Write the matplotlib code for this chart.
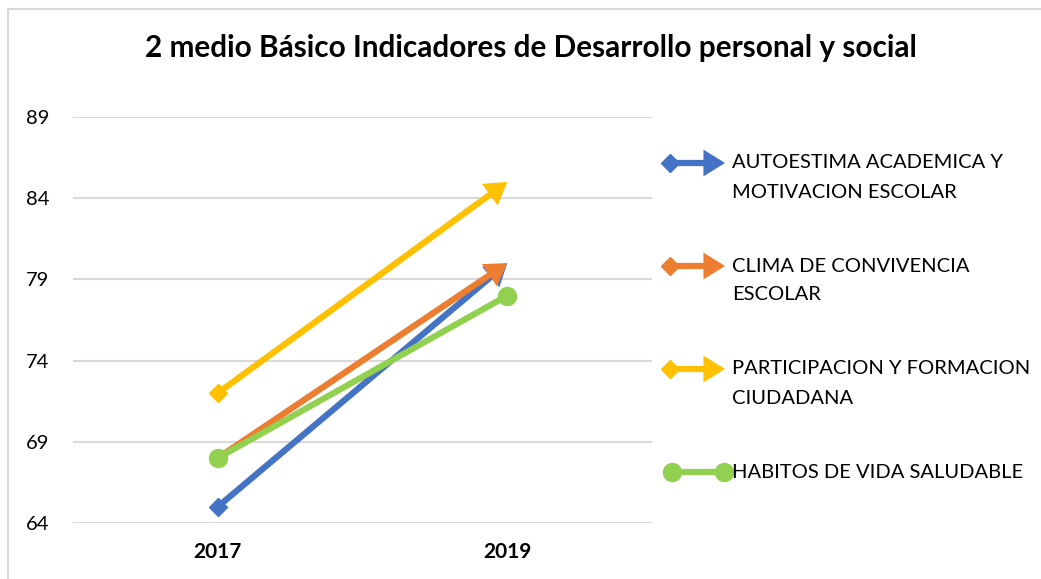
import matplotlib
matplotlib.use("Agg")
import matplotlib.pyplot as plt
from matplotlib.lines import Line2D
from matplotlib.patches import FancyArrowPatch, Rectangle

plt.rcParams['font.family'] = ['Lato', 'DejaVu Sans']

years = ['2017', '2019']
series_names = [
    'AUTOESTIMA ACADEMICA Y\nMOTIVACION ESCOLAR',
    'CLIMA DE CONVIVENCIA\nESCOLAR',
    'PARTICIPACION Y FORMACION\nCIUDADANA',
    'HABITOS DE VIDA SALUDABLE',
]
autoestima = [65, 80]
clima = [68, 80]
participacion = [72, 85]
habitos = [68, 78]
yticks = [64, 69, 74, 79, 84, 89]

colors = ['#4472C4', '#ED7D31', '#FFC000', '#92D050']
values = [autoestima, clima, participacion, habitos]

W, H = 1041, 579
fig = plt.figure(figsize=(W / 100, H / 100), dpi=100)

# chart border (top and left visible)
fig.add_artist(Rectangle((8 / W, -0.1), 1.2, (H - 9) / H + 0.1, transform=fig.transFigure,
                         fill=False, edgecolor='#D9D9D9', lw=1.5))

ax = fig.add_axes([73 / W, (H - 523) / H, (652 - 73) / W, (523 - 117) / H])
ax.set_xlim(-0.5, 1.5)
ax.set_ylim(64, 89)
ax.set_yticks(yticks)
ax.set_xticks([0, 1])
ax.set_xticklabels(years, fontsize=15, fontweight='bold')
ax.tick_params(axis='y', labelsize=14.5, length=0, pad=17)
ax.tick_params(axis='x', length=0, pad=14)
for s in ax.spines.values():
    s.set_visible(False)
ax.grid(axis='y', color='#D9D9D9', lw=1.5)
ax.set_axisbelow(True)

lw = 4.5
arrowstyle = '-|>,head_length=0.45,head_width=0.28'
for i, (vals, c) in enumerate(zip(values, colors)):
    z = 3 + i
    if i < 3:
        arr = FancyArrowPatch((0, vals[0]), (1, vals[1]), arrowstyle=arrowstyle,
                              mutation_scale=20, color=c, lw=lw, shrinkA=0, shrinkB=0,
                              joinstyle='miter', capstyle='butt', zorder=z)
        ax.add_patch(arr)
        ax.plot([0], [vals[0]], marker='D', ms=9, color=c, mec=c, zorder=z + 0.1,
                clip_on=False)
    else:
        ax.plot([0, 1], vals, color=c, lw=lw, marker='o', ms=13, zorder=z,
                solid_capstyle='butt', clip_on=False)

fig.text(531 / W, (H - 48) / H, '2 medio Básico Indicadores de Desarrollo personal y social',
         ha='center', va='center', fontsize=21.4, fontweight='bold')

# legend drawn manually
leg_y = [163, 266, 369, 472]
x0, x1 = 670 / W, 725 / W
for i, (name, c) in enumerate(zip(series_names, colors)):
    yy = (H - leg_y[i]) / H
    if i < 3:
        arr = FancyArrowPatch((x0, yy), (x1, yy), arrowstyle=arrowstyle, mutation_scale=20,
                              color=c, lw=lw, shrinkA=0, shrinkB=0, joinstyle='miter',
                              transform=fig.transFigure)
        fig.add_artist(arr)
        fig.add_artist(Line2D([x0], [yy], marker='D', ms=9, color=c,
                              transform=fig.transFigure))
    else:
        fig.add_artist(Line2D([672 / W, 724 / W], [yy, yy], marker='o', ms=13, color=c,
                              lw=lw, transform=fig.transFigure))
    lines = name.split('\n')
    for k, t in enumerate(lines):
        fig.text(732 / W, (H - leg_y[i] - 29 * k) / H, t, ha='left', va='center',
                 fontsize=14.5)

fig.savefig('out.png', dpi=100)
